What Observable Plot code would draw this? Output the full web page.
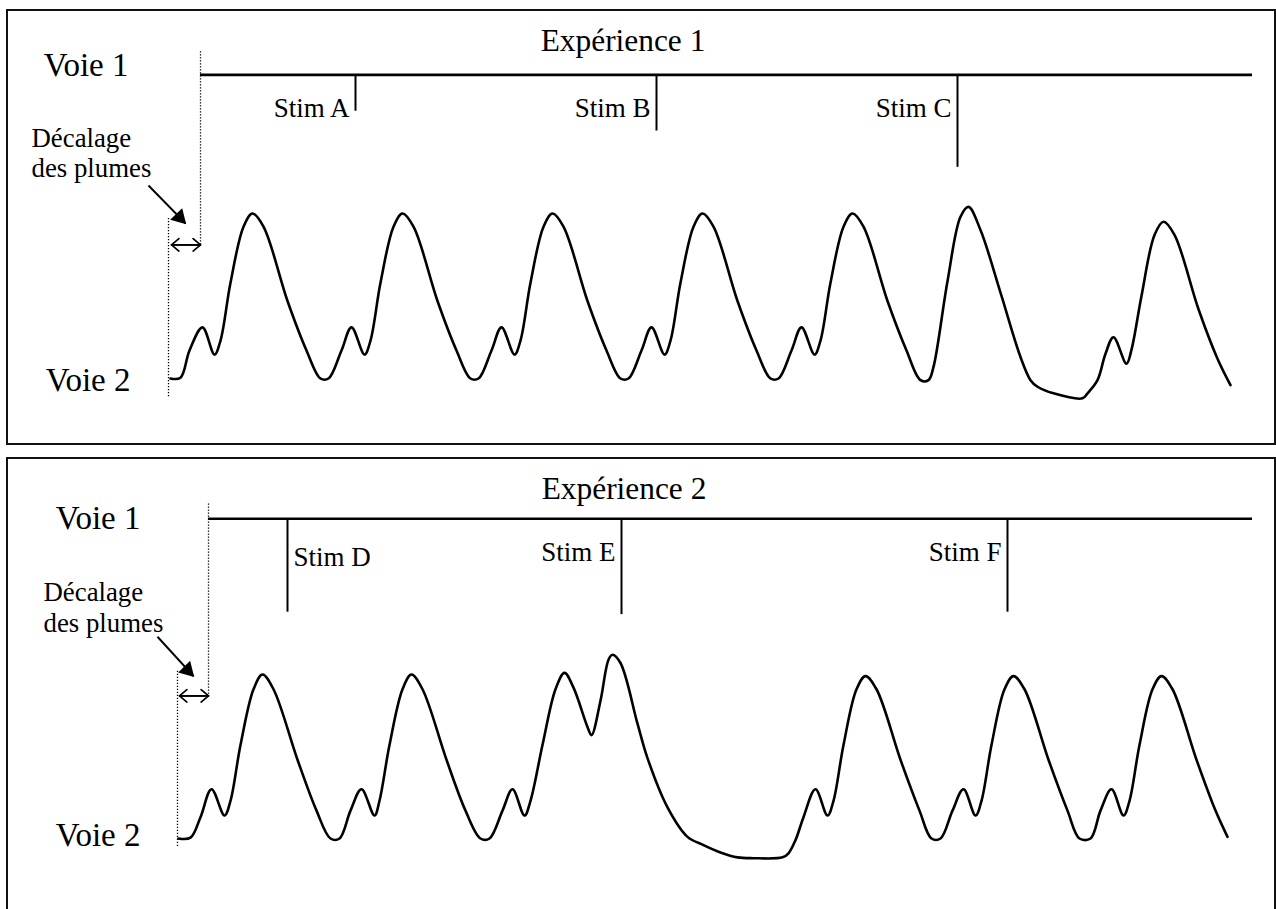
<!DOCTYPE html>
<html>
<head>
<meta charset="utf-8">
<script src="https://cdn.jsdelivr.net/npm/d3@7"></script>
<script src="https://cdn.jsdelivr.net/npm/@observablehq/plot@0.6"></script>
<style>
html,body{margin:0;padding:0;width:1276px;height:909px;overflow:hidden;background:#fff;}
#wrap{position:relative;width:1276px;height:909px;}
.box{position:absolute;box-sizing:border-box;border:2px solid #111;}
#p1,#p2{position:absolute;left:0;}
#p1{top:0;}
#p2{top:450px;}
</style>
</head>
<body>
<div id="wrap">
  <div class="box" style="left:6px;top:9px;width:1270px;height:436px"></div>
  <div class="box" style="left:6px;top:457px;width:1270px;height:480px"></div>
  <div id="p1"></div>
  <div id="p2"></div>
</div>
<script>
// ---------- DATA ----------
// Time in ms from the voie 2 pen (left dotted line); amplitude in arbitrary units (baseline 0).
const exp1Title = "Expérience 1";
const exp1Time = [
  10,60,105,170,230,260,310,375,420,475,595,690,760,800,
  865,915,980,1010,1060,1125,1170,1225,1345,1440,1510,1550,
  1615,1665,1730,1760,1810,1875,1920,1975,2095,2190,2260,2300,
  2365,2415,2480,2510,2560,2625,2670,2725,2845,2940,3010,3050,
  3115,3165,3230,3260,3310,3375,3420,3475,3595,3690,3760,3800,
  3825,3895,3960,4000,4060,4160,4260,4310,4345,4425,4570,4595,4645,4685,
  4725,4790,4815,4865,4930,4975,5030,5150,5245,5310];
const exp1Amp = [
  0,0.05,1.7,3.1,1.45,2.3,5.8,9.2,10,9.2,4.7,1.7,0,0,
  1.7,3.1,1.45,2.3,5.8,9.2,10,9.2,4.7,1.7,0,0,
  1.7,3.1,1.45,2.3,5.8,9.2,10,9.2,4.7,1.7,0,0,
  1.7,3.1,1.45,2.3,5.8,9.2,10,9.2,4.7,1.7,0,0,
  1.7,3.1,1.45,2.3,5.8,9.2,10,9.2,4.7,1.7,-0.1,-0.1,
  0.7,5.9,9.8,10.4,9.0,5.2,1.3,-0.1,-0.5,-0.9,-1.2,-0.9,-0.1,1.5,
  2.5,0.9,1.75,5.0,8.7,9.5,8.7,4.2,1.2,-0.4];
const exp1StimLabels = ["Stim A","Stim B","Stim C"];
const exp1StimTime = [935, 2440, 3945];
const exp1StimDepth = [2.2, 3.4, 5.6];
const exp1Voie1Level = 18.4;
const exp1Voie1Span = [160, 5420];
const exp1PenOffset = 160;   // décalage des plumes (ms)

const exp2Title = "Expérience 2";
const exp2Time = [
  5,65,115,170,235,265,315,380,425,480,600,695,765,810,
  865,920,985,1010,1060,1125,1170,1225,1345,1440,1515,1560,
  1625,1675,1735,1765,1825,1890,1935,1980,2050,2070,2115,2155,2175,2215,2300,2350,2450,2550,
  2630,2715,2800,2880,3025,3055,3090,3130,3190,3250,
  3280,3330,3395,3440,3495,3615,3710,3770,3815,
  3875,3930,3990,4020,4070,4135,4180,4235,4355,4450,4510,4565,
  4615,4670,4730,4760,4810,4875,4920,4975,5095,5190,5250];
const exp2Amp = [
  0,0.05,1.3,3.0,1.4,2.3,5.7,9.1,10,9.1,4.8,1.7,0,0,
  1.7,3.0,1.4,2.3,5.7,9.1,10,9.1,4.8,1.7,0,0,
  1.7,3.0,1.4,2.3,5.7,9.1,10.1,9.2,6.8,6.3,8.4,10.9,11.2,10.7,7.0,4.9,1.9,0.1,
  -0.4,-0.85,-1.15,-1.2,-1.15,-0.9,-0.1,1.3,3.0,1.4,
  2.3,5.7,9.1,9.9,9.1,4.8,1.7,0,0,
  1.7,3.0,1.4,2.3,5.7,9.1,9.9,9.1,4.8,1.7,0,0,
  1.7,3.0,1.4,2.3,5.7,9.1,9.9,9.1,4.8,1.7,0.1];
const exp2StimLabels = ["Stim D","Stim E","Stim F"];
const exp2StimTime = [550, 2220, 4150];
const exp2StimDepth = [5.7, 5.85, 5.7];
const exp2Voie1Level = 19.5;
const exp2Voie1Span = [155, 5375];
const exp2PenOffset = 155;

const labelVoie1 = "Voie 1";
const labelVoie2 = "Voie 2";
const labelOffset = "Décalage\ndes plumes";

// ---------- DRAW ----------
const FONT = "'Liberation Serif','Times New Roman',Times,serif";

function panel(o) {
  if (o.time.length !== o.amp.length) throw new Error("length mismatch " + o.time.length + " " + o.amp.length);
  const trace = o.time.map((t, i) => ({t, a: o.amp[i]}));
  const stims = o.labels.map((label, i) => ({label, t: o.stimTime[i], bottom: o.level - o.stimDepth[i]}));
  const L = o.layout;
  const txt = {fontFamily: FONT, fill: "#000", lineAnchor: "bottom"};
  return Plot.plot({
    width: 1276, height: L.height, margin: 0,
    style: {background: "transparent", overflow: "visible"},
    x: {domain: [0, 1000], range: L.xRange, axis: null},
    y: {domain: [0, 10], range: L.yRange, axis: null},
    marks: [
      // voie 2 trace
      Plot.line(trace, {x: "t", y: "a", curve: "catmull-rom", stroke: "#000", strokeWidth: 2.6, strokeLinejoin: "round"}),
      // voie 1 trace
      Plot.ruleY([o.level], {x1: o.span[0], x2: o.span[1], stroke: "#000", strokeWidth: 2.6}),
      Plot.ruleX(stims, {x: "t", y1: o.level, y2: "bottom", stroke: "#000", strokeWidth: 2}),
      Plot.text(stims.filter(d => !L.startLabels.includes(d.label)), {x: "t", y: o.level, text: "label", textAnchor: "end", dx: -6, dy: L.stimDy, fontSize: 27, ...txt}),
      Plot.text(stims.filter(d => L.startLabels.includes(d.label)), {x: "t", y: o.level, text: "label", textAnchor: "start", dx: 6, dy: L.stimDyStart, fontSize: 27, ...txt}),
      // pen reference lines
      Plot.ruleX([o.pen], {y1: L.penTop, y2: L.arrowLevel - 0.1, stroke: "#000", strokeWidth: 1.3, strokeDasharray: "1.3 1.7"}),
      Plot.ruleX([0], {y1: L.tipLevel, y2: L.penBottom, stroke: "#000", strokeWidth: 1.3, strokeDasharray: "1.3 1.7"}),
      // double arrow (décalage)
      Plot.arrow([{x1: L.arrowLeft, x2: o.pen}, {x1: o.pen, x2: L.arrowLeft}], {x1: "x1", x2: "x2", y1: L.arrowLevel, y2: L.arrowLevel, stroke: "#000", strokeWidth: 1.7, headLength: 12, headAngle: 80}),
      // pointing arrow
      Plot.link([0], {x1: L.ptrStart[0], y1: L.ptrStart[1], x2: L.ptrTip[0], y2: L.ptrTip[1], stroke: "#000", strokeWidth: 2}),
      Plot.dot([0], {x: L.ptrTip[0], y: L.ptrTip[1], symbol: "triangle", r: 6.2, fill: "#000", stroke: "none", rotate: 136, dx: -6, dy: -6}),
      // texts
      Plot.text([o.title], {frameAnchor: "top", y: o.level, dx: L.titleDx, dy: L.titleDy, fontSize: 31.4, ...txt}),
      Plot.text([labelVoie1], {x: 0, y: o.level, textAnchor: "end", dx: L.voie1Dx, dy: L.voie1Dy, fontSize: 33, ...txt}),
      Plot.text([labelVoie2], {x: 0, y: 0, textAnchor: "end", dx: L.voie2Dx, dy: L.voie2Dy, fontSize: 33, ...txt}),
      Plot.text([labelOffset], {x: L.ptrStart[0], y: L.ptrStart[1], textAnchor: "start", dx: L.offDx, dy: L.offDy, fontSize: 26.8, lineHeight: 1.15, ...txt})
    ]
  });
}

document.getElementById("p1").append(panel({
  title: exp1Title, time: exp1Time, amp: exp1Amp,
  labels: exp1StimLabels, stimTime: exp1StimTime, stimDepth: exp1StimDepth,
  level: exp1Voie1Level, span: exp1Voie1Span, pen: exp1PenOffset,
  layout: {
    height: 450, xRange: [168, 368], yRange: [378, 213],
    startLabels: [], stimDy: 42, stimDyStart: 42,
    penTop: 19.8, penBottom: -1.2, arrowLevel: 8.1, arrowLeft: 15, tipLevel: 9.7,
    ptrStart: [-100, 11.7], ptrTip: [85, 9.4],
    titleDx: -15.5, titleDy: -24, voie1Dx: -40, voie1Dy: 1, voie2Dx: -38, voie2Dy: 12,
    offDx: -117, offDy: -8
  }
}));

document.getElementById("p2").append(panel({
  title: exp2Title, time: exp2Time, amp: exp2Amp,
  labels: exp2StimLabels, stimTime: exp2StimTime, stimDepth: exp2StimDepth,
  level: exp2Voie1Level, span: exp2Voie1Span, pen: exp2PenOffset,
  layout: {
    height: 459, xRange: [177, 377], yRange: [388, 224],
    startLabels: ["Stim D"], stimDy: 42, stimDyStart: 47,
    penTop: 20.4, penBottom: -0.6, arrowLevel: 8.7, arrowLeft: 10, tipLevel: 10.2,
    ptrStart: [-100, 12.3], ptrTip: [80, 9.9],
    titleDx: -14.5, titleDy: -20, voie1Dx: -37, voie1Dy: 10, voie2Dx: -37, voie2Dy: 7,
    offDx: -114, offDy: -5
  }
}));
</script>
</body>
</html>
